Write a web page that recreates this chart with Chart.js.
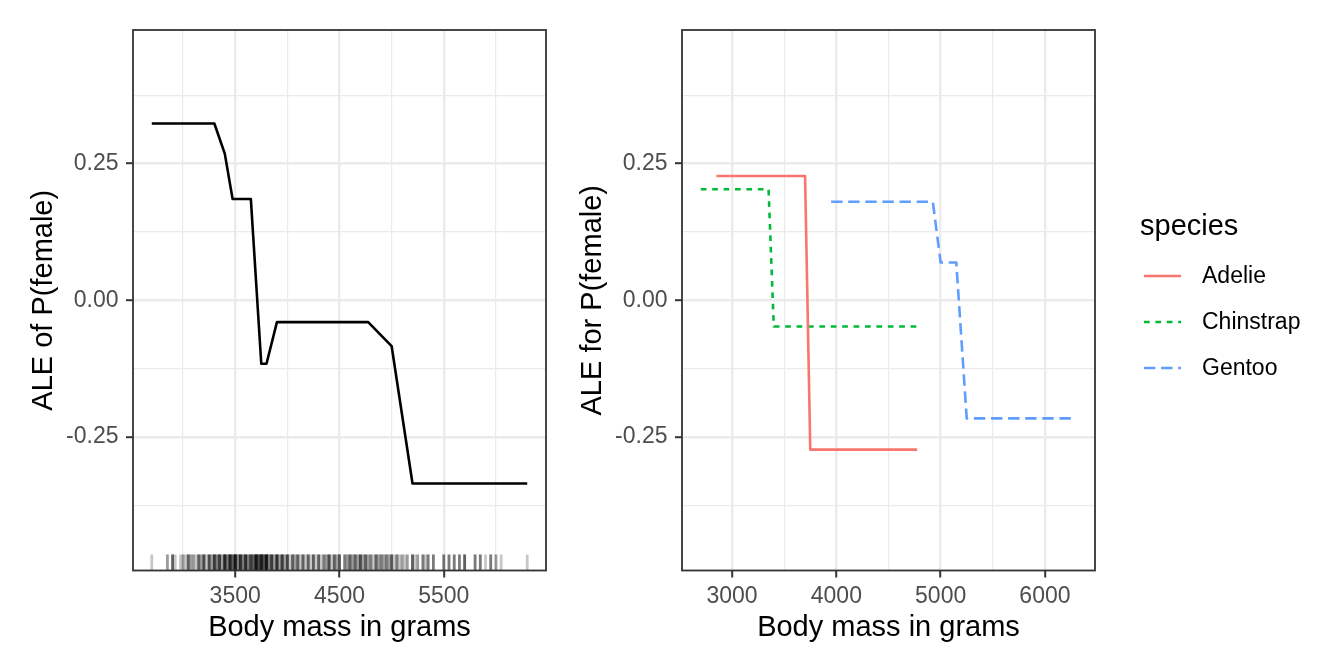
<!DOCTYPE html>
<html>
<head>
<meta charset="utf-8">
<script src="https://cdn.jsdelivr.net/npm/chart.js@4.4.1/dist/chart.umd.min.js"></script>
<style>
  body { margin: 0; background: #fff; width: 1344px; height: 672px; overflow: hidden; position: relative; }
  canvas { position: absolute; top: 0; }
  #aleAll { left: 0; }
  #aleSpecies { left: 560px; }
</style>
</head>
<body>
<canvas id="aleAll" width="560" height="672"></canvas>
<canvas id="aleSpecies" width="784" height="672"></canvas>
<script>
// axis ranges and ticks (same for both panels)
const rangeX = [2520, 6480];
const rangeY = [-0.494, 0.494];
const xTicks = [3000, 3500, 4000, 4500, 5000, 5500, 6000];
const leftXLabels = [3500, 4500, 5500];
const rightXLabels = [3000, 4000, 5000, 6000];
const yTicks = [-0.375, -0.25, -0.125, 0, 0.125, 0.25, 0.375];
const yLabels = [-0.25, 0, 0.25];

// left panel: ALE over all penguins
const allMass = [2700, 3300, 3400, 3475, 3650, 3750, 3800, 3900, 4775, 5000, 5200, 6300];
const allAle = [0.323, 0.323, 0.268, 0.185, 0.185, -0.116, -0.116, -0.040, -0.040, -0.084, -0.335, -0.335];

// rug of observed body masses (value, how many penguins)
const rugMass = [2700, 2850, 2900, 2925, 2975, 3000, 3025, 3050, 3075, 3100, 3125, 3150, 3175, 3200, 3225,
  3250, 3275, 3300, 3325, 3350, 3375, 3400, 3425, 3450, 3475, 3500, 3525, 3550, 3575, 3600, 3625, 3650,
  3675, 3700, 3725, 3750, 3775, 3800, 3825, 3850, 3875, 3900, 3925, 3950, 3975, 4000, 4025, 4050, 4075,
  4100, 4125, 4150, 4175, 4200, 4225, 4250, 4275, 4300, 4325, 4350, 4375, 4400, 4425, 4450, 4475, 4500,
  4550, 4575, 4600, 4625, 4650, 4675, 4700, 4725, 4750, 4775, 4800, 4825, 4850, 4875, 4900, 4925, 4950,
  4975, 5000, 5025, 5050, 5075, 5100, 5125, 5150, 5200, 5225, 5250, 5300, 5325, 5350, 5400, 5500, 5550,
  5600, 5650, 5700, 5800, 5850, 5900, 5950, 6000, 6050, 6300];
const rugCount = [1, 2, 4, 1, 1, 2, 1, 4, 2, 2, 1, 4, 2, 5, 1,
  5, 2, 6, 3, 6, 2, 8, 3, 8, 4, 9, 3, 7, 3, 7, 3, 6,
  4, 10, 5, 9, 5, 10, 3, 6, 2, 7, 2, 6, 2, 5, 1, 4, 2,
  4, 1, 4, 1, 4, 1, 4, 1, 4, 1, 3, 2, 5, 1, 4, 2, 4,
  3, 2, 4, 2, 4, 2, 5, 2, 4, 2, 3, 1, 4, 2, 3, 2, 3,
  2, 4, 1, 3, 1, 2, 1, 2, 4, 1, 2, 3, 1, 3, 3, 3, 3,
  3, 3, 4, 3, 3, 1, 3, 2, 1, 1];

// right panel: ALE per species
const speciesNames = ['Adelie', 'Chinstrap', 'Gentoo'];
const speciesColors = ['#F8766D', '#00BA38', '#619CFF'];
const speciesDash = [[], [5.7, 5.7], [11.4, 5.7]];
const adelieMass = [2850, 3700, 3750, 4775];
const adelieAle = [0.227, 0.227, -0.273, -0.273];
const chinstrapMass = [2700, 3350, 3400, 4775];
const chinstrapAle = [0.203, 0.203, -0.048, -0.048];
const gentooMass = [3950, 4925, 5000, 5150, 5250, 6300];
const gentooAle = [0.180, 0.180, 0.069, 0.069, -0.216, -0.216];

Chart.defaults.font.family = "'Liberation Sans', Arial, sans-serif";
Chart.defaults.animation = false;

const TICK_COLOR = '#4D4D4D';
const LINE_W = 2.6;

const points = (xs, ys) => xs.map((x, i) => ({ x: x, y: ys[i] }));

function gridFor(major) {
  const isMajor = c => c.tick && major.includes(c.tick.value);
  return {
    color: '#EBEBEB',
    lineWidth: c => isMajor(c) ? 2.4 : 1.2,
    drawTicks: true,
    tickLength: 7,
    tickWidth: 2,
    tickColor: c => isMajor(c) ? '#333333' : 'rgba(0,0,0,0)'
  };
}

function makeScales(xLabels, yTitle, yWidth, yTitlePad) {
  return {
    x: {
      type: 'linear',
      min: rangeX[0],
      max: rangeX[1],
      border: { display: false },
      grid: gridFor(xLabels),
      afterBuildTicks: s => { s.ticks = xTicks.map(v => ({ value: v })); },
      afterFit: s => { s.height = 101.5; },
      ticks: {
        autoSkip: false,
        maxRotation: 0,
        padding: 5,
        color: TICK_COLOR,
        font: { size: 23 },
        callback: v => xLabels.includes(v) ? String(v) : ''
      },
      title: {
        display: true,
        text: 'Body mass in grams',
        color: '#000',
        font: { size: 29 },
        padding: { top: 0, bottom: 27 }
      }
    },
    y: {
      type: 'linear',
      min: rangeY[0],
      max: rangeY[1],
      border: { display: false },
      grid: gridFor(yLabels),
      afterBuildTicks: s => { s.ticks = yTicks.map(v => ({ value: v })); },
      afterFit: s => { s.width = yWidth; },
      ticks: {
        autoSkip: false,
        padding: 7.5,
        color: TICK_COLOR,
        font: { size: 23 },
        callback: v => yLabels.includes(v) ? v.toFixed(2) : ''
      },
      title: {
        display: true,
        text: yTitle,
        color: '#000',
        font: { size: 29 },
        padding: { top: yTitlePad, bottom: 0 }
      }
    }
  };
}

// theme_bw style frame around the panel
const panelBorder = {
  id: 'panelBorder',
  afterDatasetsDraw(chart) {
    const { ctx, chartArea: a } = chart;
    ctx.save();
    ctx.strokeStyle = '#333333';
    ctx.lineWidth = 1.8;
    ctx.strokeRect(a.left, a.top, a.width, a.height);
    ctx.restore();
  }
};

// geom_rug along the bottom of the left panel
const rugPlugin = {
  id: 'rug',
  beforeDatasetsDraw(chart) {
    const { ctx, chartArea: a, scales } = chart;
    ctx.save();
    ctx.strokeStyle = 'rgba(0,0,0,0.22)';
    ctx.lineWidth = 2.8;
    rugMass.forEach((m, i) => {
      const px = scales.x.getPixelForValue(m);
      for (let k = 0; k < rugCount[i]; k++) {
        ctx.beginPath();
        ctx.moveTo(px, a.bottom - 16);
        ctx.lineTo(px, a.bottom);
        ctx.stroke();
      }
    });
    ctx.restore();
  }
};

// legend drawn to the right of the species panel
const speciesLegend = {
  id: 'speciesLegend',
  afterDraw(chart) {
    const { ctx, chartArea: a } = chart;
    const x0 = a.right + 45;
    ctx.save();
    ctx.fillStyle = '#000';
    ctx.textAlign = 'left';
    ctx.textBaseline = 'alphabetic';
    ctx.font = "29px 'Liberation Sans', Arial, sans-serif";
    ctx.fillText('species', x0, 235);
    ctx.font = "23px 'Liberation Sans', Arial, sans-serif";
    ctx.textBaseline = 'middle';
    chart.data.datasets.forEach((ds, i) => {
      const y = 276 + i * 46;
      ctx.beginPath();
      ctx.strokeStyle = ds.borderColor;
      ctx.lineWidth = LINE_W;
      ctx.setLineDash(ds.borderDash);
      ctx.moveTo(x0 + 4, y);
      ctx.lineTo(x0 + 41, y);
      ctx.stroke();
      ctx.setLineDash([]);
      ctx.fillText(ds.label, x0 + 62, y + 1);
    });
    ctx.restore();
  }
};

const baseOptions = {
  responsive: false,
  devicePixelRatio: 1,
  plugins: { legend: { display: false }, tooltip: { enabled: false } },
  elements: { point: { radius: 0 }, line: { tension: 0, borderJoinStyle: 'round', borderCapStyle: 'butt' } }
};

new Chart(document.getElementById('aleAll'), {
  type: 'line',
  data: {
    datasets: [{
      label: 'ALE',
      data: points(allMass, allAle),
      borderColor: '#000000',
      borderWidth: LINE_W,
      fill: false
    }]
  },
  options: Object.assign({}, baseOptions, {
    layout: { padding: { left: 0, top: 30, right: 14, bottom: 0 } },
    scales: makeScales(leftXLabels, 'ALE of P(female)', 133, 26.6)
  }),
  plugins: [rugPlugin, panelBorder]
});

const speciesData = [points(adelieMass, adelieAle), points(chinstrapMass, chinstrapAle), points(gentooMass, gentooAle)];

new Chart(document.getElementById('aleSpecies'), {
  type: 'line',
  data: {
    datasets: speciesNames.map((name, i) => ({
      label: name,
      data: speciesData[i],
      borderColor: speciesColors[i],
      borderDash: speciesDash[i],
      borderWidth: LINE_W,
      fill: false
    }))
  },
  options: Object.assign({}, baseOptions, {
    layout: { padding: { left: 0, top: 30, right: 249, bottom: 0 } },
    scales: makeScales(rightXLabels, 'ALE for P(female)', 122, 15.6)
  }),
  plugins: [panelBorder, speciesLegend]
});
</script>
</body>
</html>
